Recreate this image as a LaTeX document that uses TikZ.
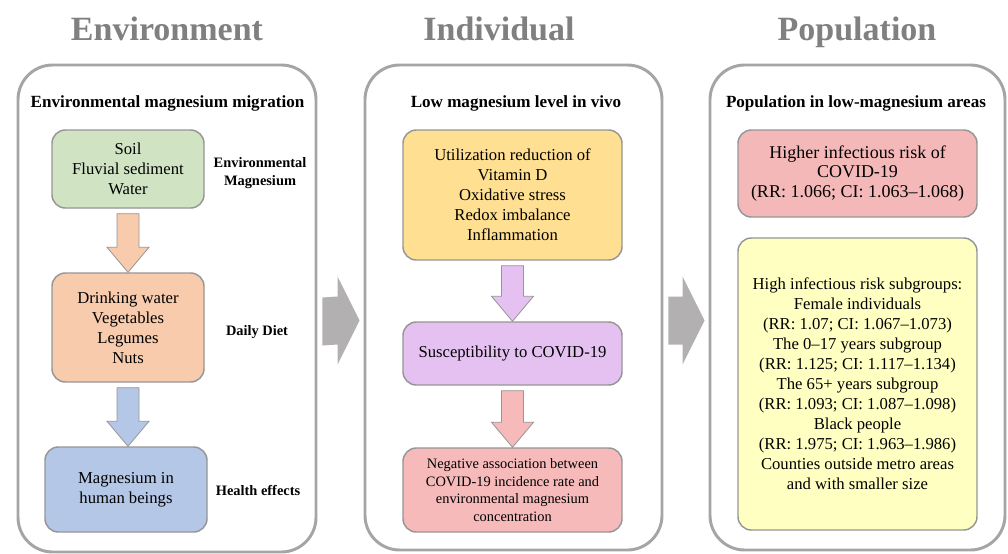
\documentclass[tikz,border=0pt]{standalone}
\usepackage{fontspec}
\setmainfont{Liberation Serif}
\usetikzlibrary{calc}

\definecolor{panelgray}{RGB}{165,165,165}
\definecolor{boxgray}{RGB}{150,150,150}
\definecolor{headgray}{RGB}{128,128,128}
\definecolor{arrowgray}{RGB}{178,176,176}
\definecolor{soilgreen}{RGB}{208,228,196}
\definecolor{dietorange}{RGB}{248,203,173}
\definecolor{humanblue}{RGB}{180,199,231}
\definecolor{vityellow}{RGB}{255,223,145}
\definecolor{suscpurple}{RGB}{229,193,242}
\definecolor{negpink}{RGB}{246,186,186}
\definecolor{riskred}{RGB}{245,184,184}
\definecolor{subyellow}{RGB}{255,255,194}

\newcommand{\boxfont}{\fontsize{12.5}{15}\selectfont}
\newcommand{\blockdown}[3]{%
	\coordinate (bs) at ($(#1.south)+(0,5)$);
	\coordinate (bt) at (#1.south |- #2.north);
	\filldraw[fill=#3, draw=boxgray, line width=0.6pt] ($(bs)+(-11,0)$) -- ($(bt)+(-11,-25)$) -- ($(bt)+(-21,-25)$) -- (bt)
		-- ($(bt)+(21,-25)$) -- ($(bt)+(11,-25)$) -- ($(bs)+(11,0)$) -- cycle;}
\newcommand{\blockright}[2]{%
	\coordinate (ra) at ($(#1.east)+(5,13)$);
	\coordinate (rb) at ($(#2.west)+(-4,13)$);
	\fill[arrowgray] ($(ra)+(0,-24)$) -- ($(rb)+(-22,-24)$) -- ($(rb)+(-22,-44)$) -- (rb)
		-- ($(rb)+(-22,44)$) -- ($(rb)+(-22,24)$) -- ($(ra)+(0,24)$) -- cycle;}

\begin{document}
\begin{tikzpicture}[x=0.75pt,y=-0.75pt]
			\tikzstyle{panel}=[draw=panelgray, line width=2.2pt, rounded corners=26pt, inner sep=0pt, fill=white]
			\tikzstyle{bbox}=[draw=boxgray, line width=1.1pt, rounded corners=10pt, inner sep=0pt, align=center, font=\boxfont]
			\tikzstyle{header}=[font=\fontsize{25.5}{28}\selectfont\bfseries, text=headgray, anchor=base]
			\tikzstyle{subhead}=[font=\fontsize{12.8}{14}\selectfont\bfseries]
			\tikzstyle{side}=[font=\fontsize{10.8}{13}\selectfont\bfseries, align=center]
			\useasboundingbox (0,0) rectangle (1008,554);
			\node[header] (henv) at (167,40) {Environment};
			\node[header] (hind) at (499,40) {Individual};
			\node[header] (hpop) at (857,40) {Population};
			\node[panel, minimum width=223.5pt, minimum height=365.25pt] (env) at (167,308.5) {};
			\node[panel, minimum width=222.75pt, minimum height=363.75pt] (ind) at (513.5,307.5) {};
			\node[panel, minimum width=221.25pt, minimum height=363.75pt] (pop) at (857.5,307.5) {};
			\blockright{env}{ind}
			\blockright{ind}{pop}
			\node[subhead] (senv) at (167.5,103) {Environmental magnesium migration};
			\node[subhead] (sind) at (516,103) {Low magnesium level in vivo};
			\node[subhead] (spop) at (856,103) {Population in low-magnesium areas};
			\node[bbox, fill=soilgreen, minimum width=114pt, minimum height=58.5pt] (soil) at (128,169) {Soil\\Fluvial sediment\\Water};
			\node[bbox, fill=dietorange, minimum width=114pt, minimum height=81.75pt] (diet) at (128,327.5) {Drinking water\\Vegetables\\Legumes\\Nuts};
			\node[bbox, fill=humanblue, minimum width=121.5pt, minimum height=63.75pt] (human) at (126,489.5) {Magnesium in\\human beings};
			\node[side] (lsoil) at (260,173) {Environmental\\Magnesium};
			\node[side] (ldiet) at (257,332) {Daily Diet};
			\node[side] (lhuman) at (258,490) {Health effects};
			\blockdown{soil}{diet}{dietorange}
			\blockdown{diet}{human}{humanblue}
			\node[bbox, fill=vityellow, minimum width=164.25pt, minimum height=97.5pt] (vit) at (512.5,195) {Utilization reduction of\\Vitamin D\\Oxidative stress\\Redox imbalance\\Inflammation};
			\node[bbox, fill=suscpurple, minimum width=164.25pt, minimum height=47.25pt] (susc) at (512.5,353.5) {Susceptibility to COVID-19};
			\node[bbox, fill=negpink, minimum width=164.25pt, minimum height=63pt, font=\fontsize{10.8}{13.1}\selectfont] (neg) at (512.5,490) {Negative association between\\COVID-19 incidence rate and\\environmental magnesium\\concentration};
			\blockdown{vit}{susc}{suscpurple}
			\blockdown{susc}{neg}{negpink}
			\node[bbox, fill=riskred, minimum width=179.25pt, minimum height=65.25pt, font=\fontsize{13.5}{14.5}\selectfont] (risk) at (857.5,173.5) {Higher infectious risk of\\COVID-19\\(RR: 1.066; CI: 1.063--1.068)};
			\node[bbox, fill=subyellow, minimum width=179.25pt, minimum height=219pt] (sub) at (857.5,384) {High infectious risk subgroups:\\Female individuals\\(RR: 1.07; CI: 1.067--1.073)\\The 0--17 years subgroup\\(RR: 1.125; CI: 1.117--1.134)\\The 65+ years subgroup\\(RR: 1.093; CI: 1.087--1.098)\\Black people\\(RR: 1.975; CI: 1.963--1.986)\\Counties outside metro areas\\and with smaller size};
		\end{tikzpicture}
\end{document}
